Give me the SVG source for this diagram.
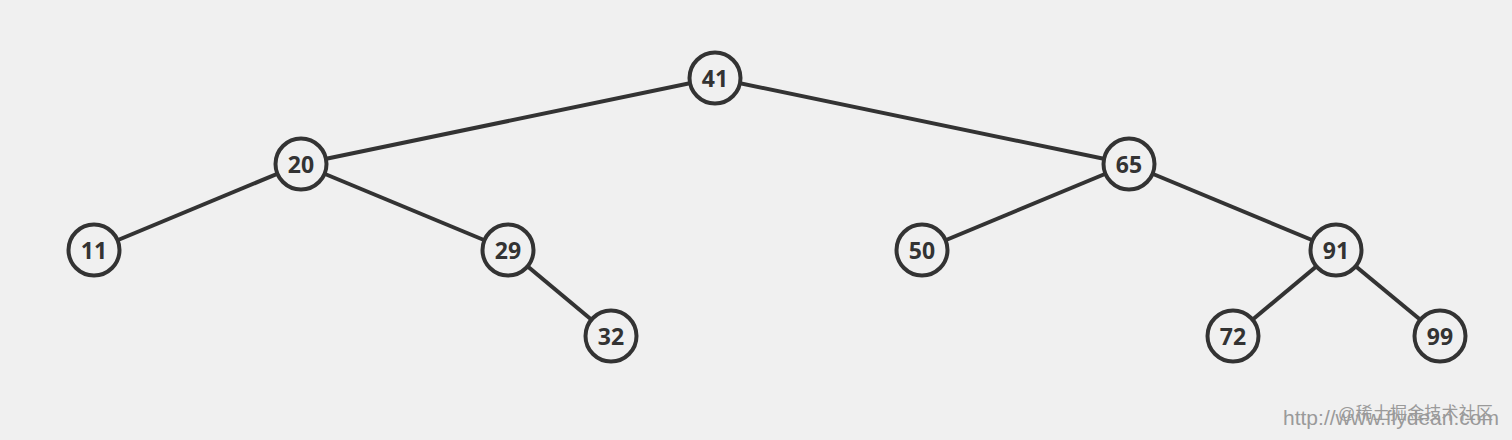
<svg xmlns="http://www.w3.org/2000/svg" width="1512" height="440" viewBox="0 0 1512 440">
<style>
.n circle{fill:#f0f0f0;stroke:#333;stroke-width:4}
.n text{font-family:"Open Sans","DejaVu Sans",sans-serif;font-weight:bold;font-size:23px;fill:#333;text-anchor:middle;dominant-baseline:central}
.e line{stroke:#333;stroke-width:4}
.wm{font-family:"Liberation Sans","Noto Sans CJK SC",sans-serif;fill:#9a9a9a}
</style>
<rect width="1512" height="440" fill="#f0f0f0"/>
<g id="edges" class="e">
<line x1="715" y1="78" x2="301" y2="164"/>
<line x1="715" y1="78" x2="1129" y2="164"/>
<line x1="301" y1="164" x2="94" y2="250"/>
<line x1="301" y1="164" x2="508" y2="250"/>
<line x1="508" y1="250" x2="611" y2="336"/>
<line x1="1129" y1="164" x2="922" y2="250"/>
<line x1="1129" y1="164" x2="1336" y2="250"/>
<line x1="1336" y1="250" x2="1233" y2="336"/>
<line x1="1336" y1="250" x2="1440" y2="336"/>
</g>
<g id="n41" class="n"><circle cx="715" cy="78" r="25.5"/><text x="715" y="78">41</text></g>
<g id="n20" class="n"><circle cx="301" cy="164" r="25.5"/><text x="301" y="164">20</text></g>
<g id="n65" class="n"><circle cx="1129" cy="164" r="25.5"/><text x="1129" y="164">65</text></g>
<g id="n11" class="n"><circle cx="94" cy="250" r="25.5"/><text x="94" y="250">11</text></g>
<g id="n29" class="n"><circle cx="508" cy="250" r="25.5"/><text x="508" y="250">29</text></g>
<g id="n50" class="n"><circle cx="922" cy="250" r="25.5"/><text x="922" y="250">50</text></g>
<g id="n91" class="n"><circle cx="1336" cy="250" r="25.5"/><text x="1336" y="250">91</text></g>
<g id="n32" class="n"><circle cx="611" cy="336" r="25.5"/><text x="611" y="336">32</text></g>
<g id="n72" class="n"><circle cx="1233" cy="336" r="25.5"/><text x="1233" y="336">72</text></g>
<g id="n99" class="n"><circle cx="1440" cy="336" r="25.5"/><text x="1440" y="336">99</text></g>
<text class="wm" x="1283" y="425" font-size="21" textLength="216">http://www.flydean.com</text>
<text class="wm" x="1338" y="419" font-size="17" textLength="155">@稀土掘金技术社区</text>
</svg>
